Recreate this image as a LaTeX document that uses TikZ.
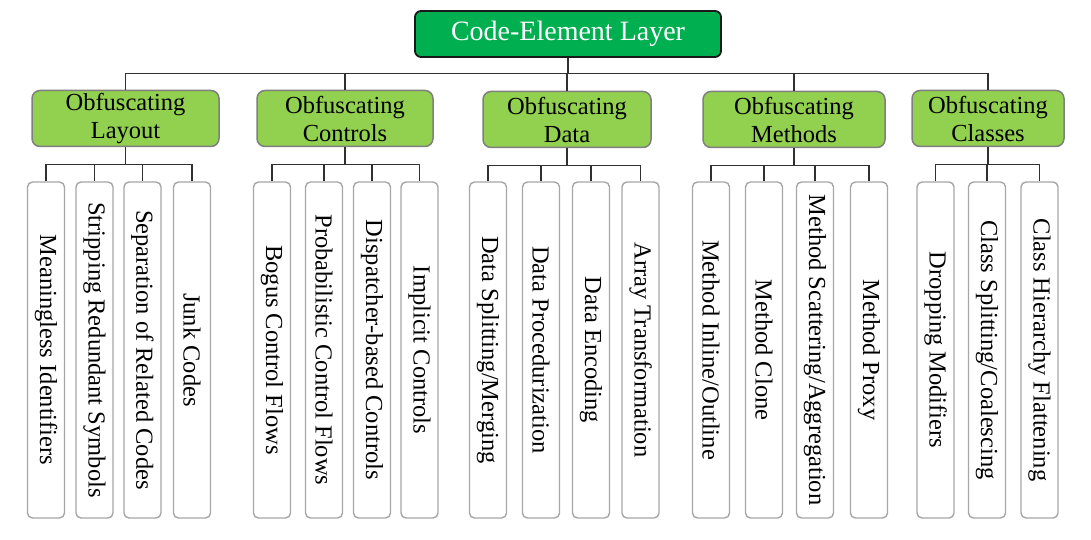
\documentclass[tikz,border=0pt]{standalone}
\usepackage{fontspec}
\setmainfont{Liberation Serif}
\usepackage{xcolor}
\usepackage{tikz}
\definecolor{rootgreen}{HTML}{00B050}
\definecolor{catgreen}{HTML}{92D050}
\definecolor{catedge}{HTML}{7F7F7F}
\definecolor{leafedge}{HTML}{A6A6A6}
\definecolor{wire}{HTML}{303030}
\newcommand{\vtext}[1]{\rotatebox{-90}{#1}}
\tikzset{
  root/.style ={rounded corners=6pt,draw=black!90,line width=1.8pt,fill=rootgreen,
                text=white,inner sep=0pt,minimum width=306pt,minimum height=46pt,
                font=\fontsize{28}{32}\selectfont},
  cat/.style  ={rounded corners=8pt,draw=catedge,line width=1.5pt,fill=catgreen,
                inner sep=0pt,align=center,minimum height=56pt,
                font=\fontsize{24.5}{28}\selectfont,
                execute at begin node=\rule{0pt}{23pt}},
  leaf/.style ={rounded corners=5pt,draw=leafedge,line width=1.4pt,fill=white,
                inner sep=0pt,minimum width=37pt,minimum height=336pt,
                font=\fontsize{24.5}{28}\selectfont},
  link/.style ={draw=wire,line width=1.1pt}
}
\begin{document}
\begin{tikzpicture}[x=1pt,y=-1pt]
  \useasboundingbox (0,0) rectangle (1091,540);
  % root
  \node[root] (layer) at (568,34) {Code-Element Layer};
  % categories
  \node[cat,minimum width=187pt] (layout)   at (125.5,118.5) {Obfuscating\\Layout};
  \node[cat,minimum width=176pt] (controls) at (345,118.5)   {Obfuscating\\Controls};
  \node[cat,minimum width=168pt] (data)     at (567,119.5)   {Obfuscating\\Data};
  \node[cat,minimum width=182pt] (methods)  at (794,119.5)   {Obfuscating\\Methods};
  \node[cat,minimum width=152pt] (classes)  at (988,118.5)   {Obfuscating\\Classes};
  % layout leaves
  \node[leaf] (lay1) at (46,350)    {\vtext{Meaningless Identifiers}};
  \node[leaf] (lay2) at (94.5,350)  {\vtext{Stripping Redundant Symbols}};
  \node[leaf] (lay3) at (142.5,350) {\vtext{Separation of Related Codes}};
  \node[leaf] (lay4) at (192,350)   {\vtext{Junk Codes}};
  % control leaves
  \node[leaf] (ctl1) at (272,350)   {\vtext{Bogus Control Flows}};
  \node[leaf] (ctl2) at (324,350)   {\vtext{Probabilistic Control Flows}};
  \node[leaf] (ctl3) at (372,350)   {\vtext{Dispatcher-based Controls}};
  \node[leaf] (ctl4) at (419.5,350) {\vtext{Implicit Controls}};
  % data leaves
  \node[leaf] (dat1) at (488,350)   {\vtext{Data Splitting/Merging}};
  \node[leaf] (dat2) at (541,350)   {\vtext{Data Procedurization}};
  \node[leaf] (dat3) at (591,350)   {\vtext{Data Encoding}};
  \node[leaf] (dat4) at (640.5,350) {\vtext{Array Transformation}};
  % method leaves
  \node[leaf] (met1) at (711,350)   {\vtext{Method Inline/Outline}};
  \node[leaf] (met2) at (764,350)   {\vtext{Method Clone}};
  \node[leaf] (met3) at (815,350)   {\vtext{Method Scattering/Aggregation}};
  \node[leaf] (met4) at (869,350)   {\vtext{Method Proxy}};
  % class leaves
  \node[leaf] (cls1) at (935.5,350) {\vtext{Dropping Modifiers}};
  \node[leaf] (cls2) at (987,350)   {\vtext{Class Splitting/Coalescing}};
  \node[leaf] (cls3) at (1039.5,350){\vtext{Class Hierarchy Flattening}};
  % root to categories
  \draw[link] (layer.south) -- ++(0,16) -| (layout.north);
  \draw[link] (layer.south) -- ++(0,16) -| (controls.north);
  \draw[link] (layer.south) -- ++(0,16) -| (data.north);
  \draw[link] (layer.south) -- ++(0,16) -| (methods.north);
  \draw[link] (layer.south) -- ++(0,16) -| (classes.north);
  % categories to leaves
  \draw[link] (layout.south) -- ++(0,17) -| (lay1.north);
  \draw[link] (layout.south) -- ++(0,17) -| (lay2.north);
  \draw[link] (layout.south) -- ++(0,17) -| (lay3.north);
  \draw[link] (layout.south) -- ++(0,17) -| (lay4.north);
  \draw[link] (controls.south) -- ++(0,17) -| (ctl1.north);
  \draw[link] (controls.south) -- ++(0,17) -| (ctl2.north);
  \draw[link] (controls.south) -- ++(0,17) -| (ctl3.north);
  \draw[link] (controls.south) -- ++(0,17) -| (ctl4.north);
  \draw[link] (data.south) -- ++(0,17) -| (dat1.north);
  \draw[link] (data.south) -- ++(0,17) -| (dat2.north);
  \draw[link] (data.south) -- ++(0,17) -| (dat3.north);
  \draw[link] (data.south) -- ++(0,17) -| (dat4.north);
  \draw[link] (methods.south) -- ++(0,17) -| (met1.north);
  \draw[link] (methods.south) -- ++(0,17) -| (met2.north);
  \draw[link] (methods.south) -- ++(0,17) -| (met3.north);
  \draw[link] (methods.south) -- ++(0,17) -| (met4.north);
  \draw[link] (classes.south) -- ++(0,17) -| (cls1.north);
  \draw[link] (classes.south) -- ++(0,17) -| (cls2.north);
  \draw[link] (classes.south) -- ++(0,17) -| (cls3.north);
\end{tikzpicture}
\end{document}
